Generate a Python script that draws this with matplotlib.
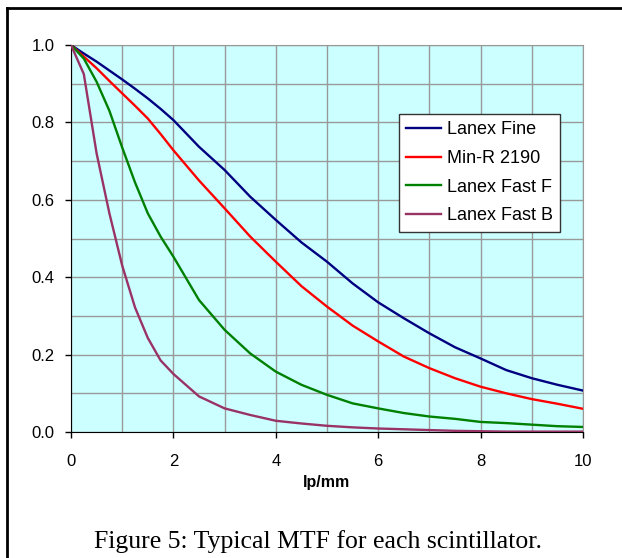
import matplotlib.pyplot as plt
from matplotlib.lines import Line2D

lp_mm = [0, 0.25, 0.5, 0.75, 1, 1.25, 1.5, 1.75, 2, 2.5, 3, 3.5, 4, 4.5, 5,
         5.5, 6, 6.5, 7, 7.5, 8, 8.5, 9, 9.5, 10]

lanex_fine = [1.0, 0.978, 0.957, 0.934, 0.911, 0.887, 0.862, 0.835, 0.806, 0.737,
              0.677, 0.608, 0.548, 0.49, 0.44, 0.384, 0.335, 0.294, 0.255, 0.219,
              0.19, 0.16, 0.139, 0.122, 0.107]
min_r = [1.0, 0.97, 0.94, 0.907, 0.875, 0.843, 0.81, 0.77, 0.728, 0.65,
         0.578, 0.505, 0.44, 0.377, 0.324, 0.275, 0.234, 0.195, 0.165, 0.139,
         0.117, 0.1, 0.085, 0.073, 0.06]
fast_f = [1.0, 0.965, 0.905, 0.83, 0.735, 0.645, 0.565, 0.505, 0.453, 0.341,
          0.264, 0.203, 0.156, 0.122, 0.096, 0.074, 0.061, 0.049, 0.04, 0.034,
          0.026, 0.023, 0.019, 0.015, 0.013]
fast_b = [1.0, 0.925, 0.72, 0.565, 0.43, 0.322, 0.243, 0.185, 0.15, 0.092,
          0.061, 0.044, 0.029, 0.022, 0.016, 0.012, 0.009, 0.007, 0.005, 0.003,
          0.002, 0.001, 0.001, 0.001, 0.001]

names = ['Lanex Fine', 'Min-R 2190', 'Lanex Fast F', 'Lanex Fast B']
colors = ['#000080', '#FF0000', '#008000', '#993366']

plt.rcParams['font.family'] = ['Liberation Sans', 'DejaVu Sans']

fig = plt.figure(figsize=(6.22, 5.58), dpi=100)
ax = fig.add_axes([71 / 622, 126 / 558, 512 / 622, 387 / 558])
ax.set_facecolor('#CCFFFF')

for vals, name, c in zip([lanex_fine, min_r, fast_f, fast_b], names, colors):
    ax.plot(lp_mm, vals, color=c, lw=1.7, label=name, zorder=3)

ax.set_xlim(0, 10)
ax.set_ylim(0, 1)
ax.set_xticks([0, 2, 4, 6, 8, 10])
ax.set_yticks([0, 0.2, 0.4, 0.6, 0.8, 1.0])
ax.set_yticklabels(['0.0', '0.2', '0.4', '0.6', '0.8', '1.0'])
ax.set_xticks(range(11), minor=True)
ax.set_yticks([i / 10 for i in range(11)], minor=True)
ax.grid(which='both', color='#999999', lw=1, zorder=1)
ax.tick_params(which='major', direction='out', length=4, width=1, labelsize=12,
               colors='black')
ax.tick_params(axis='y', pad=8)
ax.tick_params(axis='x', pad=12)
ax.tick_params(which='minor', length=0)
ax.spines['left'].set_color('black')
ax.spines['bottom'].set_color('black')
ax.spines['top'].set_color('#999999')
ax.spines['right'].set_color('#999999')

ax.set_xlabel('lp/mm', fontsize=11.5, fontweight='bold', labelpad=4)

leg = ax.legend(loc='upper left', bbox_to_anchor=((399 - 71) / 512, (432 - 114) / 387),
                fontsize=13, frameon=True, fancybox=False, borderpad=0.4,
                handlelength=1.9, handletextpad=0.35, labelspacing=0.65,
                borderaxespad=0)
leg.get_frame().set_edgecolor('#333333')
leg.get_frame().set_linewidth(1)
leg.get_frame().set_facecolor('white')
leg.get_frame().set_alpha(1)

# outer box (only left and top edges are visible)
fig.add_artist(Line2D([7.5 / 622, 7.5 / 622], [0, 1 - 7.5 / 558], transform=fig.transFigure,
                      color='black', lw=2))
fig.add_artist(Line2D([6.5 / 622, 1], [1 - 7.5 / 558, 1 - 7.5 / 558], transform=fig.transFigure,
                      color='black', lw=2))

fig.text(318 / 622, 10 / 558, 'Figure 5: Typical MTF for each scintillator.',
         ha='center', va='baseline', fontsize=18.5, family='Liberation Serif')

fig.savefig('out.png', dpi=100)
